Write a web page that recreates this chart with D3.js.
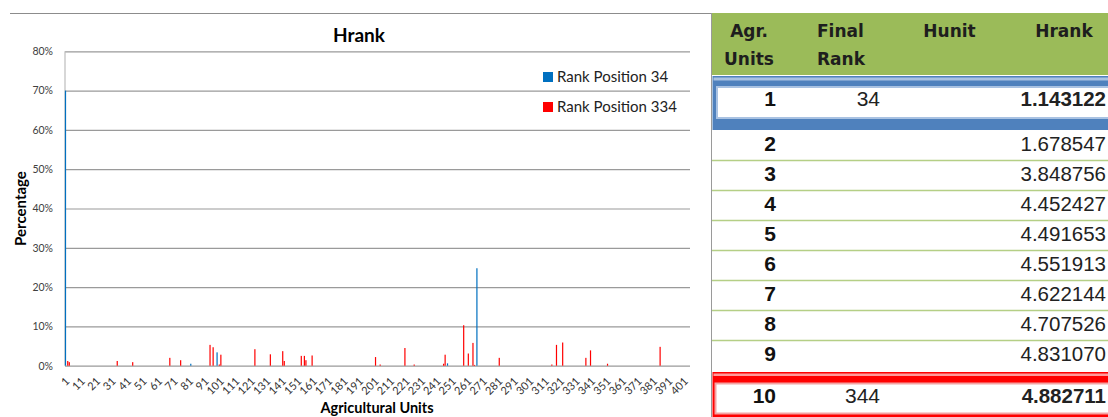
<!DOCTYPE html>
<html>
<head>
<meta charset="utf-8">
<script src="https://cdn.jsdelivr.net/npm/d3@7"></script>
<style>
  body { margin: 0; background: #fff; }
  svg { display: block; }
</style>
</head>
<body>
<div id="chart"></div>
<script>
// ---- chart data (percent of runs) ----
const unitCount = 404;
const seriesNames = ['Rank Position 34', 'Rank Position 334'];
const seriesColors = ['#0070C0', '#FF0000'];

// non-zero units only, everything else is 0
const blueUnits  = [1, 82, 99, 248, 267];
const blueValues = [70, 0.5, 3.4, 0.6, 24.8];

const redUnits  = [2, 3, 34, 44, 68, 75, 94, 96, 100, 101, 123, 133, 141, 142, 153, 155, 156, 160,
                   201, 204, 220, 226, 245, 246, 258, 261, 264, 265, 281, 315, 318, 322, 337, 340, 351, 385];
const redValues = [1.2, 0.9, 1.2, 0.9, 2.0, 1.4, 5.3, 4.7, 0.3, 2.8, 4.2, 2.9, 3.7, 1.2, 2.5, 2.5, 1.4, 2.6,
                   2.2, 0.3, 4.5, 0.3, 0.5, 2.8, 10.3, 3.1, 5.8, 0.2, 2.0, 0.3, 5.3, 5.9, 2.0, 3.9, 0.5, 4.8];

const xTickLabels = [1, 11, 21, 31, 41, 51, 61, 71, 81, 91, 101, 111, 121, 131, 141, 151, 161, 171, 181, 191,
                     201, 211, 221, 231, 241, 251, 261, 271, 281, 291, 301, 311, 321, 331, 341, 351, 361, 371, 381, 391, 401];
const yTicks = [0, 10, 20, 30, 40, 50, 60, 70, 80];

// ---- table data ----
const agrUnits   = [1, 2, 3, 4, 5, 6, 7, 8, 9, 10];
const finalRank  = ['34', '', '', '', '', '', '', '', '', '344'];
const hrankVals  = ['1.143122', '1.678547', '3.848756', '4.452427', '4.491653',
                    '4.551913', '4.622144', '4.707526', '4.831070', '4.882711'];
const tableHeads = [['Agr.', 'Units'], ['Final', 'Rank'], ['Hunit'], ['Hrank']];

const W = 1108, H = 417;
const svg = d3.select('#chart').append('svg').attr('width', W).attr('height', H);

const plot = { left: 65, right: 690, top: 51.3, bottom: 365.7 };
const chartFont = 'Lato, "Open Sans", sans-serif';

// frame top line
svg.append('line').attr('x1', 10).attr('x2', 712).attr('y1', 13.5).attr('y2', 13.5)
  .attr('stroke', '#8c8c8c').attr('stroke-width', 1);

const units = d3.range(1, unitCount + 1);
const x = d3.scaleBand().domain(units).range([plot.left, plot.right]).padding(0.1);
const x1 = d3.scaleBand().domain(seriesNames).range([0, x.bandwidth()]);
const y = d3.scaleLinear().domain([0, 80]).range([plot.bottom, plot.top]);

// grid + y axis
const yAxis = d3.axisLeft(y).tickValues(yTicks).tickFormat(d => d + '%')
  .tickSize(-(plot.right - plot.left)).tickPadding(12);
const gy = svg.append('g').attr('transform', `translate(${plot.left},0)`).call(yAxis);
gy.select('.domain').remove();
gy.selectAll('.tick line').attr('stroke', '#9a9a9a').attr('stroke-width', 1.2);
gy.selectAll('.tick text').attr('font-family', chartFont).attr('font-size', 10.5).attr('fill', '#404040');

svg.append('line').attr('x1', plot.left).attr('x2', plot.left)
  .attr('y1', plot.top).attr('y2', plot.bottom).attr('stroke', '#bdbdbd').attr('stroke-width', 1.2);

// bars
const barW = 1.2;
const blueData = blueUnits.map((u, i) => ({ u, v: blueValues[i], s: seriesNames[0] }));
const redData = redUnits.map((u, i) => ({ u, v: redValues[i], s: seriesNames[1] }));
const color = d3.scaleOrdinal().domain(seriesNames).range(seriesColors);

svg.append('g').selectAll('rect')
  .data(blueData.concat(redData))
  .enter().append('rect')
  .attr('x', d => x(d.u) + x1(d.s) + x1.bandwidth() / 2 - barW / 2)
  .attr('y', d => y(d.v))
  .attr('width', barW)
  .attr('height', d => y(0) - y(d.v))
  .attr('fill', d => color(d.s));

// x axis labels
const xAxis = d3.axisBottom(x).tickValues(xTickLabels).tickSize(0).tickPadding(0);
const gx = svg.append('g').attr('transform', `translate(0,${plot.bottom})`).call(xAxis);
gx.select('.domain').remove();
gx.selectAll('.tick text')
  .attr('font-family', chartFont).attr('font-size', 11).attr('fill', '#333')
  .attr('text-anchor', 'end')
  .attr('transform', 'translate(2,14) rotate(-45)')
  .attr('dy', '0.3em');

// titles
svg.append('text').attr('x', 359).attr('y', 41.5).attr('text-anchor', 'middle')
  .attr('font-family', chartFont).attr('font-weight', 'bold').attr('font-size', 19).text('Hrank');
svg.append('text').attr('transform', 'translate(26,208.5) rotate(-90)').attr('text-anchor', 'middle')
  .attr('font-family', chartFont).attr('font-weight', 'bold').attr('font-size', 15).text('Percentage');
svg.append('text').attr('x', 377).attr('y', 413).attr('text-anchor', 'middle')
  .attr('font-family', chartFont).attr('font-weight', 'bold').attr('font-size', 14.5).text('Agricultural Units');

// legend
const legend = svg.append('g').selectAll('g').data(seriesNames).enter().append('g')
  .attr('transform', (d, i) => `translate(543,${72 + i * 30})`);
legend.append('rect').attr('width', 10).attr('height', 10).attr('fill', d => color(d));
legend.append('text').attr('x', 14).attr('y', 9.5)
  .attr('font-family', chartFont).attr('font-size', 15).attr('fill', '#222').text(d => d);

// ---- table ----
const tbl = svg.append('g');
const headFont = '"DejaVu Sans", Verdana, sans-serif';
const bodyFont = '"Liberation Sans", Arial, sans-serif';

tbl.append('rect').attr('x', 712).attr('y', 13).attr('width', W - 712).attr('height', 62).attr('fill', '#9BBB59');
tbl.append('line').attr('x1', 711.5).attr('x2', 711.5).attr('y1', 13).attr('y2', H)
  .attr('stroke', '#9a9a9a').attr('stroke-width', 1);

const headX = [749, 817, 949.5, 1064];
const headAnchor = ['middle', 'start', 'middle', 'middle'];
tableHeads.forEach((lines, c) => {
  lines.forEach((t, k) => {
    tbl.append('text').attr('x', headX[c]).attr('y', 36.5 + k * 28.5)
      .attr('text-anchor', headAnchor[c])
      .attr('font-family', headFont).attr('font-weight', 'bold').attr('font-size', 17)
      .attr('fill', '#1e1e1e').text(t);
  });
});

// highlight boxes (first and last rows)
tbl.append('rect').attr('x', 712.5).attr('y', 76).attr('width', 400).attr('height', 54).attr('fill', '#4F81BD');
tbl.append('rect').attr('x', 713.5).attr('y', 77.5).attr('width', 400).attr('height', 3).attr('fill', '#A9C2E2');
tbl.append('rect').attr('x', 717).attr('y', 87).attr('width', 400).attr('height', 31)
  .attr('fill', '#fff').attr('stroke', '#A9C2E2').attr('stroke-width', 2);

tbl.append('rect').attr('x', 712.5).attr('y', 372).attr('width', 400).attr('height', 50).attr('fill', '#FF0000');
tbl.append('rect').attr('x', 713.5).attr('y', 373.5).attr('width', 400).attr('height', 2.5).attr('fill', '#FF9A9A');
tbl.append('rect').attr('x', 715.5).attr('y', 383.5).attr('width', 400).attr('height', 30)
  .attr('fill', '#fff').attr('stroke', '#F4A3A3').attr('stroke-width', 2);

// row separators for plain rows
const rowY = d3.scaleLinear().domain([2, 9]).range([151, 361]);
d3.range(2, 9).forEach(r => {
  tbl.append('line').attr('x1', 712).attr('x2', W).attr('y1', rowY(r) + 9.5).attr('y2', rowY(r) + 9.5)
    .attr('stroke', '#B5CF86').attr('stroke-width', 1.6);
});

const baseline = i => (i === 0 ? 106 : i === 9 ? 403 : rowY(agrUnits[i]));
const rows = tbl.selectAll('g.row').data(agrUnits).enter().append('g').attr('class', 'row');
rows.append('text').attr('x', 776).attr('y', (d, i) => baseline(i)).attr('text-anchor', 'end')
  .attr('font-family', bodyFont).attr('font-weight', 'bold').attr('font-size', 21).attr('fill', '#111')
  .text(d => d);
rows.append('text').attr('x', 880).attr('y', (d, i) => baseline(i)).attr('text-anchor', 'end')
  .attr('font-family', bodyFont).attr('font-size', 21).attr('fill', '#222')
  .text((d, i) => finalRank[i]);
// keep the last digit inside the page
rows.append('text').attr('x', W - 2).attr('y', (d, i) => baseline(i)).attr('text-anchor', 'end')
  .attr('font-family', bodyFont).attr('font-size', 20.5).attr('fill', '#222')
  .attr('font-weight', (d, i) => (i === 0 || i === 9 ? 'bold' : 'normal'))
  .text((d, i) => hrankVals[i]);
</script>
</body>
</html>
